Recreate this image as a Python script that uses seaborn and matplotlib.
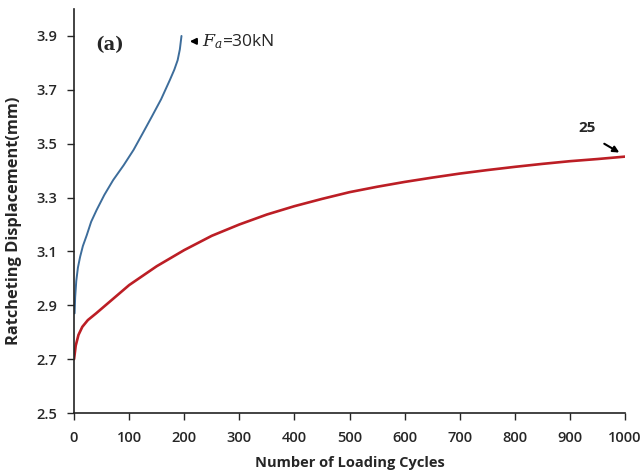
"""
Ratcheting displacement vs loading cycles
"""

import pandas as pd
import matplotlib.pyplot as plt
import seaborn as sns

# ── Data ─────────────────────────────────────────────────────────────────────
cycles_30 = [1, 2, 4, 7, 11, 16, 23, 31, 41, 55, 71, 90, 108, 125, 141, 158, 174,
             182, 188, 192, 195]
disp_30   = [2.87, 2.93, 2.99, 3.04, 3.08, 3.12, 3.16, 3.21, 3.254, 3.31, 3.365,
             3.42, 3.477, 3.54, 3.60, 3.665, 3.737, 3.775, 3.81, 3.85, 3.90]

cycles_25 = [0, 3, 8, 15, 25, 40, 60, 80, 100, 125, 150, 175, 200, 250, 300, 350,
             400, 450, 500, 550, 600, 650, 700, 750, 800, 850, 900, 950, 1000]
disp_25   = [2.70, 2.75, 2.79, 2.82, 2.845, 2.87, 2.905, 2.94, 2.975, 3.01, 3.045,
             3.075, 3.105, 3.158, 3.20, 3.237, 3.268, 3.295, 3.32, 3.34, 3.358,
             3.374, 3.389, 3.402, 3.414, 3.425, 3.435, 3.443, 3.452]

x_ticks = list(range(0, 1001, 100))
y_ticks = [2.5, 2.7, 2.9, 3.1, 3.3, 3.5, 3.7, 3.9]

BLUE = "#3D6D9B"
RED  = "#BC1E25"

sns.set_style("ticks")
plt.rcParams["font.family"] = ["Open Sans", "DejaVu Sans"]
plt.rcParams["mathtext.fontset"] = "dejavuserif"

df30 = pd.DataFrame({"cycles": cycles_30, "disp": disp_30})
df25 = pd.DataFrame({"cycles": cycles_25, "disp": disp_25})

fig = plt.figure(figsize=(6.44, 4.75), dpi=100)
ax = fig.add_axes([0.115, 0.1305, 0.8555, 0.8505])

sns.lineplot(data=df30, x="cycles", y="disp", ax=ax, color=BLUE, linewidth=1.4)
sns.lineplot(data=df25, x="cycles", y="disp", ax=ax, color=RED, linewidth=1.9)

ax.set_xlim(0, 1000)
ax.set_ylim(2.5, 4.0)
ax.set_xticks(x_ticks)
ax.set_yticks(y_ticks)
ax.set_yticklabels([f"{v:.1f}" for v in y_ticks])
ax.tick_params(direction="out", length=5, width=1, labelsize=10.5)
ax.tick_params(axis="x", pad=8)
ax.tick_params(axis="y", pad=7)
for lab in ax.get_xticklabels() + ax.get_yticklabels():
    lab.set_fontweight("semibold")

for s in ["top", "right"]:
    ax.spines[s].set_visible(False)
for s in ["left", "bottom"]:
    ax.spines[s].set_linewidth(1.2)
    ax.spines[s].set_color("#222222")

ax.set_xlabel("Number of Loading Cycles", fontsize=10.5, fontweight="bold", labelpad=8)
ax.set_ylabel("Ratcheting Displacement(mm)", fontsize=11.8, fontweight="bold")
ax.yaxis.set_label_coords(-0.094, 0.475)

# annotations
ax.text(65, 3.866, "(a)", family="DejaVu Serif", fontweight="bold", fontsize=13,
        ha="center", va="center")
ax.annotate("", xy=(205, 3.88), xytext=(228, 3.88),
            arrowprops=dict(arrowstyle="-|>", color="black", lw=1.4, mutation_scale=9))
ax.text(233, 3.88, r"$F_a$=30kN", fontsize=12.5, ha="left", va="center")
ax.text(932, 3.558, "25", fontsize=11, fontweight="bold", ha="center", va="center")
ax.annotate("", xy=(994, 3.462), xytext=(958, 3.505),
            arrowprops=dict(arrowstyle="-|>", color="black", lw=1.5, mutation_scale=9))

plt.savefig("out.png", dpi=100)
